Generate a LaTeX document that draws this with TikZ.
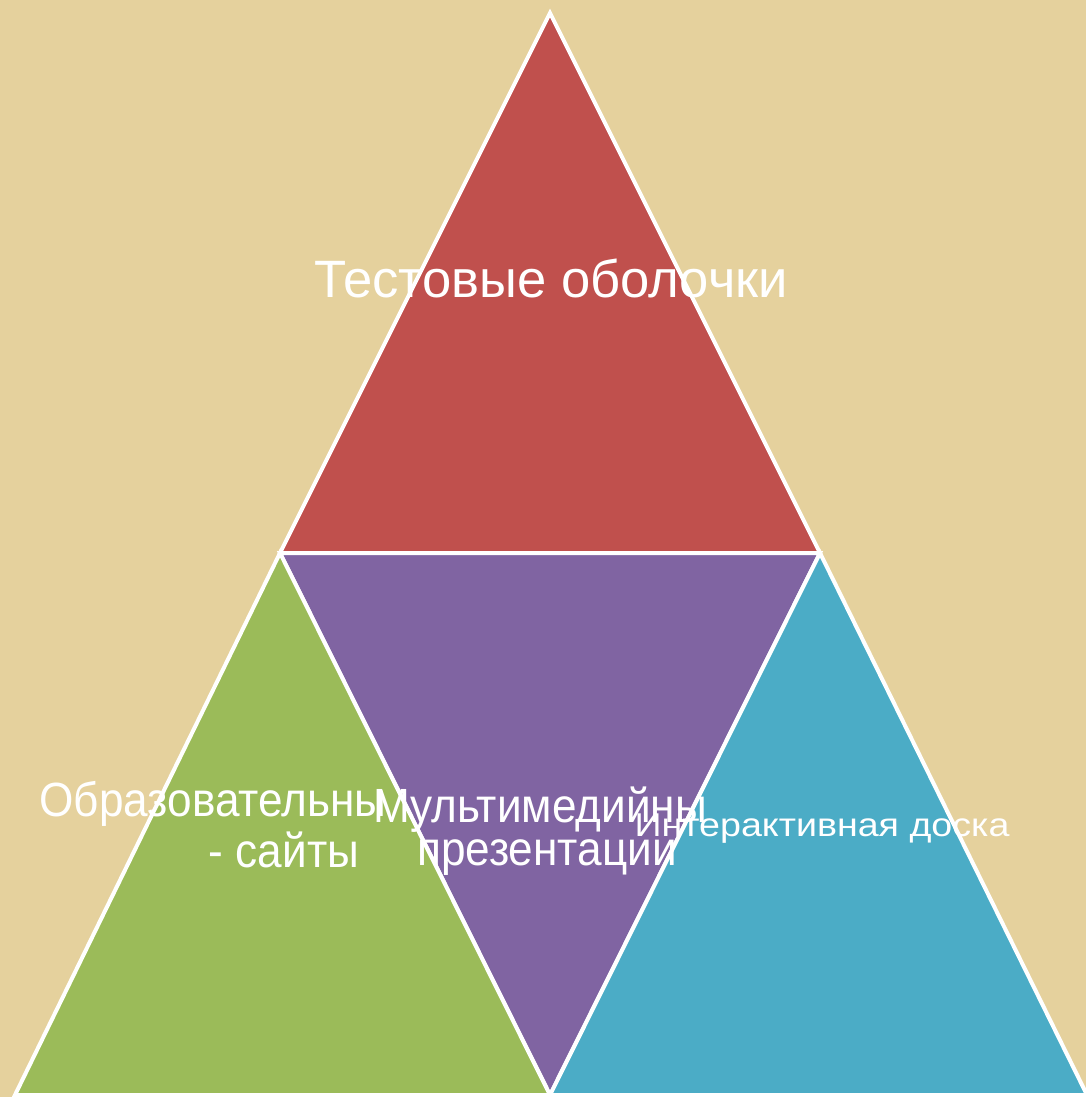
\documentclass[tikz,border=0pt]{standalone}
\usepackage{fontspec}
\setmainfont{Liberation Sans}
\newfontfamily\narrowsans[FakeStretch=0.92]{Liberation Sans}
\newfontfamily\widesans[FakeStretch=1.14]{Liberation Sans}
\usetikzlibrary{positioning, calc}
\definecolor{bgbeige}{RGB}{229,209,157}
\definecolor{segred}{RGB}{192,80,77}
\definecolor{segpurple}{RGB}{128,100,162}
\definecolor{seggreen}{RGB}{155,187,89}
\definecolor{segblue}{RGB}{75,172,198}

\begin{document}
\begin{tikzpicture}[
    x=0.5pt, y=-0.5pt, % one unit = one pixel of the slide
    piece/.style={draw=white, line width=2pt, line join=miter},
    caption/.style={text=white, inner sep=0pt, anchor=base},
    bigfont/.style={font=\fontsize{26.3}{30}\selectfont},
    midfont/.style={font=\narrowsans\fontsize{24}{28}\selectfont},
    smallfont/.style={font=\widesans\fontsize{16.5}{20}\selectfont}
]

% ========== background ==========
\fill[bgbeige] (0,0) rectangle (1086,1097);
\useasboundingbox (0,0) rectangle (1086,1097);

% ========== corners of the pyramid ==========
\coordinate (apex) at (550,13);
\coordinate (midL) at (280,553);
\coordinate (midR) at (820,553);
\coordinate (botL) at (15,1095);
\coordinate (botC) at (550,1095);
\coordinate (botR) at (1087,1095);

% ========== four triangles ==========
\filldraw[piece, fill=segred] (apex) -- (midL) -- (midR) -- cycle;
\filldraw[piece, fill=segpurple] (midL) -- (midR) -- (botC) -- cycle;
\filldraw[piece, fill=seggreen] (midL) -- (botC) -- (botL) -- cycle;
\filldraw[piece, fill=segblue] (midR) -- (botR) -- (botC) -- cycle;

% ========== texts ==========
\node[caption, bigfont] (tests) at (551,297) {Тестовые оболочки};
\node[caption, midfont] (edu1) at (213,816) {Образовательны};
\node[caption, midfont] (edu2) at (284,867) {- сайты};
\node[caption, midfont] (media1) at (540,822) {Мультимедийны};
\node[caption, midfont] (media2) at (547,865) {презентации};
\node[caption, smallfont] (board) at (822,836) {Интерактивная доска};

\end{tikzpicture}
\end{document}
